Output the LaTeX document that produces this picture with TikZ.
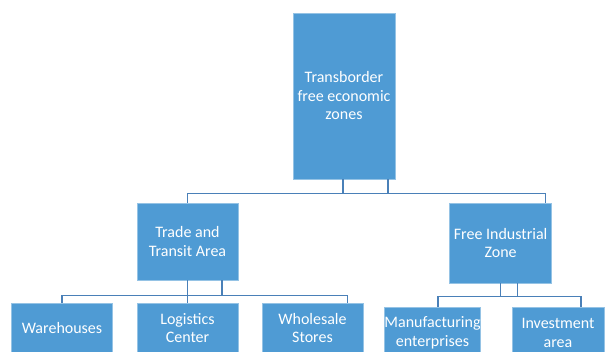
\documentclass[tikz,border=0pt]{standalone}
\usepackage{fontspec}
\setmainfont{Carlito}
\usepackage{tikz}
\usetikzlibrary{positioning, calc}

\definecolor{boxblue}{HTML}{4F9BD4}
\definecolor{lineblue}{HTML}{4A80B8}

\tikzset{
    zonebox/.style = {draw = boxblue!60!white, line width = 0.6pt, fill = boxblue,
        rectangle, text = white, align = center, inner xsep = 0pt,
        font = \fontsize{16}{18.5}\selectfont},
    link/.style = {draw = lineblue, line width = 1.1pt}
}

\begin{document}
\begin{tikzpicture}[x = 1pt, y = -1pt]
        \useasboundingbox (0,0) rectangle (605,351);
        \clip (0,0) rectangle (605,351);
        % boxes
        \node [zonebox, minimum width = 102pt, minimum height = 166pt] (top)
        at (344,96) {Transborder\\free economic\\zones};
        \node [zonebox, minimum width = 101pt, minimum height = 77pt] (trade)
        at (187.5,241.5) {Trade and\\Transit Area};
        \node [zonebox, minimum width = 102pt, minimum height = 80pt] (fiz)
        at (500.6,243) {Free Industrial\\Zone};
        \node [zonebox, minimum width = 101pt, minimum height = 50pt] (ware)
        at (62,328) {Warehouses};
        \node [zonebox, minimum width = 101pt, minimum height = 50pt] (logi)
        at (187.5,328) {Logistics\\Center};
        \node [zonebox, minimum width = 101pt, minimum height = 50pt] (whole)
        at (312.5,328) {Wholesale\\Stores};
        \node [zonebox, minimum width = 91pt, minimum height = 52pt] (manu)
        at (432.5,333) {Manufacturing\\enterprises};
        \node [zonebox, minimum width = 92pt, minimum height = 52pt] (inv)
        at (558,333) {Investment\\area};
        % first level
        \draw [link] ($(top.south) + (-1,0)$) -- ++ (0,15);
        \draw [link] ($(top.south) + (44,0)$) -- ++ (0,15);
        \draw [link] (trade.north) -- ++ (0,-9) -| ($(fiz.north east) + (-6.5,0)$);
        % trade and transit area
        \draw [link] (trade.south) -- ++ (0,16);
        \draw [link] ($(trade.south) + (34.5,0)$) -- ++ (0,16);
        \draw [link] (ware.north) -- ++ (0,-7) -| ($(whole.north east) + (-16,0)$);
        \draw [link] (logi.north) -- ++ (0,-7);
        % free industrial zone
        \draw [link] (fiz.south) -- ++ (0,14);
        \draw [link] ($(fiz.south) + (17,0)$) -- ++ (0,14);
        \draw [link] ($(manu.north) + (5.5,0)$) -- ++ (0,-10) -| ($(inv.north) + (23,0)$);
    \end{tikzpicture}
\end{document}
